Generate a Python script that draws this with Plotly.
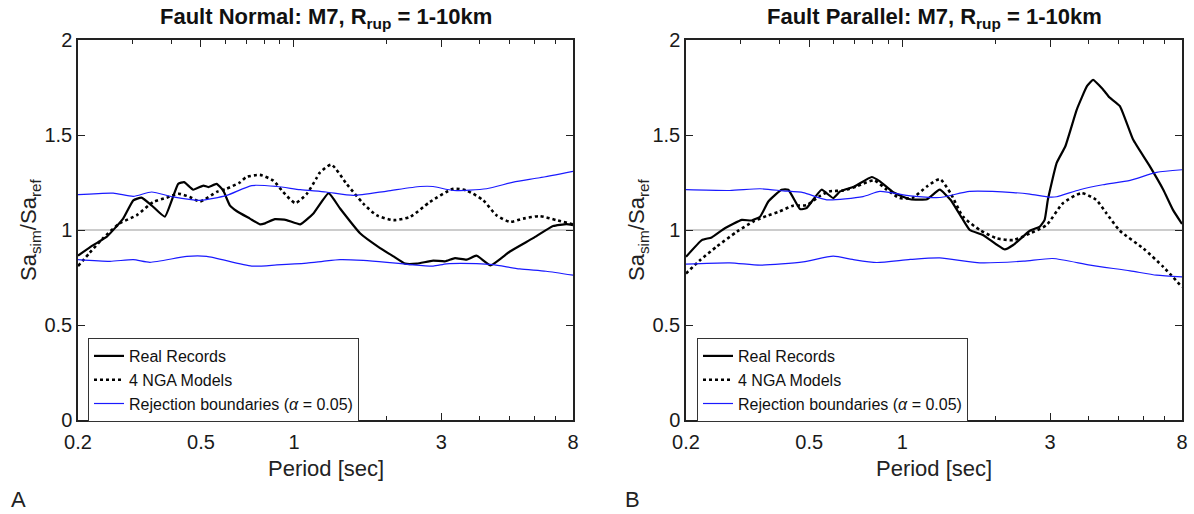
import plotly.graph_objects as go

# ---------------- data ----------------
A_real_T = [0.2, 0.224, 0.248, 0.280, 0.302, 0.321, 0.346, 0.382, 0.422, 0.441, 0.472, 0.509, 0.528, 0.562, 0.59, 0.62, 0.652, 0.72, 0.776, 0.806, 0.868, 0.946, 1.048, 1.156, 1.295, 1.41, 1.636, 1.90, 2.10, 2.29, 2.50, 2.82, 3.08, 3.32, 3.62, 3.90, 4.33, 5.0, 5.94, 6.9, 7.62, 8.0]
A_real_v = [0.865, 0.92, 0.965, 1.06, 1.156, 1.17, 1.13, 1.07, 1.243, 1.252, 1.212, 1.234, 1.226, 1.243, 1.208, 1.13, 1.10, 1.06, 1.03, 1.035, 1.057, 1.052, 1.03, 1.087, 1.194, 1.113, 0.983, 0.905, 0.861, 0.823, 0.823, 0.839, 0.835, 0.852, 0.844, 0.865, 0.814, 0.887, 0.957, 1.021, 1.031, 1.026]

A_nga_T = [0.2, 0.218, 0.241, 0.273, 0.31, 0.35, 0.387, 0.422, 0.46, 0.496, 0.562, 0.60, 0.668, 0.70, 0.776, 0.857, 0.923, 1.01, 1.10, 1.18, 1.21, 1.32, 1.48, 1.676, 1.85, 2.10, 2.38, 2.75, 3.28, 3.62, 4.1, 4.52, 5.0, 5.52, 6.24, 7.07, 8.0]
A_nga_v = [0.81, 0.879, 0.957, 1.035, 1.078, 1.147, 1.17, 1.191, 1.174, 1.15, 1.20, 1.215, 1.25, 1.278, 1.29, 1.26, 1.20, 1.142, 1.19, 1.27, 1.30, 1.344, 1.243, 1.139, 1.078, 1.052, 1.07, 1.147, 1.217, 1.208, 1.156, 1.078, 1.043, 1.06, 1.073, 1.052, 1.03]

A_up_T = [0.2, 0.26, 0.302, 0.346, 0.406, 0.496, 0.606, 0.73, 0.88, 1.048, 1.27, 1.556, 2.0, 2.56, 2.82, 3.28, 4.2, 5.13, 6.24, 8.0]
A_up_v = [1.186, 1.194, 1.177, 1.20, 1.174, 1.156, 1.182, 1.234, 1.229, 1.212, 1.20, 1.182, 1.205, 1.229, 1.229, 1.208, 1.217, 1.252, 1.275, 1.309]

A_lo_T = [0.2, 0.254, 0.302, 0.342, 0.45, 0.522, 0.73, 0.88, 1.10, 1.24, 1.41, 1.676, 2.0, 2.38, 2.82, 3.12, 3.9, 4.4, 5.38, 6.54, 8.0]
A_lo_v = [0.844, 0.835, 0.844, 0.83, 0.861, 0.861, 0.81, 0.816, 0.826, 0.835, 0.844, 0.84, 0.83, 0.818, 0.81, 0.822, 0.823, 0.818, 0.795, 0.783, 0.762]

B_real_T = [0.2, 0.225, 0.242, 0.267, 0.303, 0.326, 0.347, 0.369, 0.407, 0.428, 0.467, 0.49, 0.548, 0.598, 0.629, 0.70, 0.796, 0.846, 0.937, 1.06, 1.20, 1.32, 1.43, 1.57, 1.65, 1.82, 2.14, 2.28, 2.58, 2.78, 2.88, 2.95, 3.15, 3.36, 3.66, 3.95, 4.13, 4.44, 4.67, 5.04, 5.56, 6.3, 6.96, 7.48, 8.0]
B_real_v = [0.859, 0.947, 0.961, 1.009, 1.053, 1.05, 1.07, 1.15, 1.212, 1.212, 1.11, 1.115, 1.212, 1.168, 1.203, 1.229, 1.279, 1.256, 1.197, 1.162, 1.162, 1.212, 1.159, 1.053, 1.0, 0.974, 0.898, 0.921, 0.996, 1.018, 1.053, 1.159, 1.353, 1.441, 1.635, 1.758, 1.79, 1.741, 1.697, 1.652, 1.476, 1.335, 1.212, 1.106, 1.032]

B_nga_T = [0.2, 0.222, 0.251, 0.292, 0.33, 0.364, 0.40, 0.444, 0.49, 0.542, 0.58, 0.644, 0.71, 0.81, 0.89, 0.98, 1.08, 1.20, 1.32, 1.43, 1.57, 1.78, 2.02, 2.28, 2.58, 2.92, 3.3, 3.79, 4.22, 4.56, 5.04, 6.0, 6.96, 8.0]
B_nga_v = [0.771, 0.841, 0.912, 0.991, 1.044, 1.074, 1.097, 1.128, 1.131, 1.18, 1.203, 1.208, 1.229, 1.261, 1.212, 1.168, 1.17, 1.229, 1.268, 1.194, 1.07, 1.0, 0.956, 0.947, 0.982, 1.026, 1.141, 1.194, 1.159, 1.088, 0.996, 0.903, 0.806, 0.70]

B_up_T = [0.2, 0.277, 0.347, 0.412, 0.478, 0.57, 0.746, 0.846, 1.06, 1.32, 1.65, 2.28, 2.58, 3.0, 3.15, 3.74, 4.44, 5.44, 6.62, 8.0]
B_up_v = [1.212, 1.208, 1.217, 1.206, 1.197, 1.159, 1.176, 1.203, 1.18, 1.171, 1.203, 1.197, 1.189, 1.173, 1.175, 1.212, 1.238, 1.261, 1.303, 1.317]

B_lo_T = [0.2, 0.277, 0.347, 0.478, 0.598, 0.69, 0.826, 1.06, 1.32, 1.78, 2.46, 3.06, 4.04, 5.44, 6.62, 8.0]
B_lo_v = [0.82, 0.827, 0.815, 0.832, 0.862, 0.845, 0.829, 0.845, 0.853, 0.827, 0.836, 0.85, 0.815, 0.785, 0.762, 0.753]

x_major = [0.2, 0.5, 1, 3, 8]
x_major_text = ["0.2", "0.5", "1", "3", "8"]
x_minor = [0.3, 0.4, 0.6, 0.7, 0.8, 0.9, 2, 4, 5, 6, 7]
y_ticks = [0, 0.5, 1, 1.5, 2]
y_tick_text = ["0", "0.5", "1", "1.5", "2"]

titles = ["<b>Fault Normal: M7, R<sub>rup</sub> = 1-10km</b>",
          "<b>Fault Parallel: M7, R<sub>rup</sub> = 1-10km</b>"]
legend_names = ["Real Records", "4 NGA Models", "Rejection boundaries (<i>α</i> = 0.05)"]
panel_letters = ["A", "B"]

# ---------------- figure ----------------
W, H = 1194, 514
FONT = "Liberation Sans, Arial, Helvetica, sans-serif"
fig = go.Figure()

panels = [
    dict(real=(A_real_T, A_real_v), nga=(A_nga_T, A_nga_v), up=(A_up_T, A_up_v), lo=(A_lo_T, A_lo_v),
         xa="x", ya="y", leg="legend"),
    dict(real=(B_real_T, B_real_v), nga=(B_nga_T, B_nga_v), up=(B_up_T, B_up_v), lo=(B_lo_T, B_lo_v),
         xa="x2", ya="y2", leg="legend2"),
]

for p in panels:
    fig.add_trace(go.Scatter(x=p["real"][0], y=p["real"][1], mode="lines", name=legend_names[0],
                             line=dict(color="black", width=2.2, shape="spline", smoothing=0.4),
                             xaxis=p["xa"], yaxis=p["ya"], legend=p["leg"]))
    fig.add_trace(go.Scatter(x=p["nga"][0], y=p["nga"][1], mode="lines", name=legend_names[1],
                             line=dict(color="black", width=2.6, dash="dot", shape="spline", smoothing=0.6),
                             xaxis=p["xa"], yaxis=p["ya"], legend=p["leg"]))
    fig.add_trace(go.Scatter(x=p["up"][0], y=p["up"][1], mode="lines", name=legend_names[2],
                             line=dict(color="#1a1aff", width=1.2, shape="spline", smoothing=0.6),
                             xaxis=p["xa"], yaxis=p["ya"], legend=p["leg"], legendgroup="rb" + p["leg"]))
    fig.add_trace(go.Scatter(x=p["lo"][0], y=p["lo"][1], mode="lines", name=legend_names[2],
                             line=dict(color="#1a1aff", width=1.2, shape="spline", smoothing=0.6),
                             xaxis=p["xa"], yaxis=p["ya"], legend=p["leg"], legendgroup="rb" + p["leg"],
                             showlegend=False))

xdom = [[78 / W, 573 / W], [686 / W, 1182 / W]]
ydom = [1 - 420 / H, 1 - 40 / H]

axis_common = dict(showline=True, linecolor="#222", linewidth=1.5, mirror="allticks",
                   ticks="inside", tickcolor="#222", ticklen=7, tickwidth=1,
                   showgrid=False, zeroline=False, automargin=False,
                   tickfont=dict(family=FONT, size=20, color="#1a1a1a"))

for i, (xa, ya) in enumerate([("xaxis", "yaxis"), ("xaxis2", "yaxis2")]):
    fig.layout[xa] = dict(axis_common, type="log", domain=xdom[i],
                          range=[-0.69897, 0.90309], ticklabelstandoff=3,
                          tickmode="array", tickvals=x_major, ticktext=x_major_text,
                          minor=dict(tickmode="array", tickvals=x_minor, ticks="inside",
                                     ticklen=4, tickcolor="#222", showgrid=False),
                          anchor="y" if i == 0 else "y2")
    fig.layout[ya] = dict(axis_common, domain=ydom, range=[0, 2],
                          tickmode="array", tickvals=y_ticks, ticktext=y_tick_text,
                          anchor="x" if i == 0 else "x2")
    # reference line at 1
    fig.add_shape(type="line", xref=("x" if i == 0 else "x2") + " domain", yref="y" if i == 0 else "y2",
                  x0=0, x1=1, y0=1, y1=1, line=dict(color="#999999", width=1.2), layer="below")

legend_common = dict(bgcolor="white", bordercolor="#333", borderwidth=1,
                     font=dict(family=FONT, size=16, color="#111"),
                     xanchor="left", yanchor="top", tracegroupgap=0,
                     itemwidth=30)
fig.update_layout(
    legend=dict(legend_common, x=88 / W, y=1 - 338 / H),
    legend2=dict(legend_common, x=697 / W, y=1 - 338 / H),
)

ann = []
centers = [(78 + 573) / 2 / W, (686 + 1182) / 2 / W]
for i in range(2):
    ann.append(dict(text=titles[i], x=centers[i], y=1 - 18 / H, xref="paper", yref="paper",
                    showarrow=False, font=dict(family=FONT, size=22, color="#111"),
                    xanchor="center", yanchor="middle"))
    ann.append(dict(text="Period [sec]", x=centers[i], y=1 - 468 / H, xref="paper", yref="paper",
                    showarrow=False, font=dict(family=FONT, size=22, color="#222"),
                    xanchor="center", yanchor="middle"))
    ann.append(dict(text="Sa<sub>sim</sub>/Sa<sub>ref</sub>", x=[30 / W, 638 / W][i], y=1 - 230 / H,
                    xref="paper", yref="paper", showarrow=False, textangle=-90,
                    font=dict(family=FONT, size=22, color="#222"),
                    xanchor="center", yanchor="middle"))
    ann.append(dict(text=panel_letters[i], x=[18 / W, 632 / W][i], y=1 - 499 / H,
                    xref="paper", yref="paper", showarrow=False,
                    font=dict(family=FONT, size=22, color="#222"),
                    xanchor="center", yanchor="middle"))

fig.update_layout(width=W, height=H, margin=dict(l=0, r=0, t=0, b=0),
                  paper_bgcolor="white", plot_bgcolor="white", annotations=ann)

fig.write_html("out.html")
